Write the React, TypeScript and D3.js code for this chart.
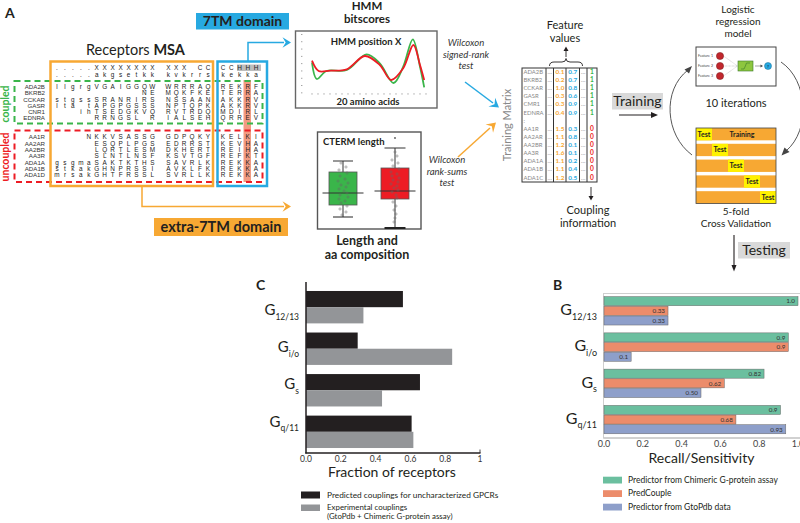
import React from 'react';
import * as d3 from 'd3';

const FONT = "Lato, 'Open Sans', sans-serif";
const MSA_FONT = "'Liberation Sans', Arial, sans-serif";

const ORANGE = '#f7a833';
const BLUE = '#27a9e1';
const GREEN = '#3ab54a';
const RED = '#ed1c24';

// ---------- Panel C data ----------
const gProteins = ['12/13', 'i/o', 's', 'q/11'];
const predictedC = [0.557, 0.297, 0.655, 0.607];
const experimentalC = [0.33, 0.84, 0.437, 0.617];
const cTicks = [0, 0.2, 0.4, 0.6, 0.8, 1];
const cTickLabels = ['0.0', '0.2', '0.4', '0.6', '0.8', '1'];
const cLegend = ['Predicted couplings for uncharacterized GPCRs', 'Experimental couplings', '(GtoPdb + Chimeric G-protein assay)'];

// ---------- Panel B data ----------
const chimericB = [1.0, 0.95, 0.825, 0.91];
const predCoupleB = [0.33, 0.95, 0.62, 0.68];
const gtopdbB = [0.33, 0.14, 0.5, 0.937];
const chimericLabels = ['1.0', '0.9', '0.82', '0.9'];
const predCoupleLabels = ['0.33', '0.9', '0.62', '0.68'];
const gtopdbLabels = ['0.33', '0.1', '0.50', '0.93'];
const bSeriesNames = ['Predictor from Chimeric G-protein assay', 'PredCouple', 'Predictor from GtoPdb data'];
const bColors = ['#6bbf9f', '#ec8c6b', '#8e9fca'];
const bTicks = [0, 0.2, 0.4, 0.6, 0.8, 1];
const bTickLabels = ['0.0', '0.2', '0.4', '0.6', '0.8', '1.0'];

// ---------- Panel A data ----------
const coupledNames = ['ADA2B', 'BKRB2', 'CCKAR', 'GASR', 'CNR1', 'EDNRA'];
const uncoupledNames = ['AA1R', 'AA2AR', 'AA2BR', 'AA3R', 'ADA1A', 'ADA1B', 'ADA1D'];
const msaHeader1 = '.....XXXXXXXX XXX CC';
const msaHeader2 = '.....akgsetkk kvkrrs';
const coupledExtra = [
  'llgrgVGAIGGQW WRRRAQ',
  '           NE MQKFKE',
  'stgssSRANRIRS NSSAAN',
  'lta tAPGPGSSS NPTQPK',
  '   ihTSEDGKVQ RVTRDQ',
  '     RRNGSL R IALSEH',
];
const uncoupledExtra = [
  '    NKKVSASSG GDPQKY',
  '     ESQPLPGS EDRRST',
  '     LQRTLESM DKHERT',
  '     SLNTLNSF KSVTGF',
  'gsgmaSAKTKTHS SAVRLK',
  'stkakGHNPRSSI AVKLFK',
  'mrsakGHTFRSSL SVRLLK',
];
const tmHeader1 = 'CCHHH';
const tmHeader2 = 'kekka';
const coupledTM = ['REKRF', 'TERRA', 'AKKRV', 'AKKRV', 'MDIRL', 'QRREV'];
const uncoupledTM = ['KELKI', 'KEVHA', 'REIHA', 'REFKT', 'REKKA', 'REKKA', 'REKKA'];

// HMM bitscore curves (position along 20 aa, bitscore 0..1)
const greenHmmPos = [1, 1.8, 3.4, 6.8, 10.1, 12.3, 14.6, 16.2, 17.8, 19, 19.7];
const greenHmmVal = [0.5, 0.2, 0.345, 0.364, 0.649, 0.485, 0.127, 0.424, 0.922, 0.424, 0.049];
const redHmmPos = [1, 2.1, 4, 6.8, 9.8, 12.3, 14.2, 16.2, 17.9, 19, 19.7];
const redHmmVal = [0.533, 0.345, 0.351, 0.376, 0.618, 0.455, 0.182, 0.394, 0.818, 0.455, 0.182];

// CTERM length box plots [min, q1, median, q3, max]
const ctermGreen = [13, 25, 37, 58, 69];
const ctermRed = [2, 31, 39, 62, 82];
const ctermRedOutlier = 92;
const greenDotVals = [67, 63, 60, 57, 54, 51, 49, 47, 45, 43, 41, 39, 37, 35, 33, 31, 29, 27, 24, 21, 18, 15];
const greenDotOff = [-2, 3, -4, 4, -3, 2, -5, 5, -2, 3, -4, 1, 4, -3, 5, -4, 2, -2, 4, -3, 3, -1];
const redDotVals = [78, 74, 70, 67, 64, 61, 58, 56, 54, 52, 50, 48, 46, 44, 42, 40, 38, 35, 32, 28, 24, 20, 16, 12, 8];
const redDotOff = [0, 2, -3, 3, -2, 4, -4, 2, -3, 4, -2, 3, -4, 2, -1, 3, -3, 1, 2, -2, 1, -1, 1, 0, -1];

// Training matrix
const tmNames = ['ADA2B', 'BKRB2', 'CCKAR', 'GASR', 'CMR1', 'EDNRA', ':', 'AA1R', 'AA2AR', 'AA2BR', 'AA3R', 'ADA1A', 'ADA1B', 'ADA1C'];
const tmFeat1 = ['0.1', '0.2', '1.0', '0.3', '0.3', '0.4', '', '1.5', '1.1', '1.2', '1.6', '1.1', '1.1', '1.2'];
const tmFeat2 = ['0.7', '0.7', '0.8', '0.6', '0.9', '0.9', '', '0.3', '0.8', '0.1', '0.1', '0.2', '0.4', '0.5'];
const tmCoupling = ['1', '1', '1', '1', '1', '1', '', '0', '0', '0', '0', '0', '0', '0'];

const folds = [0, 1, 2, 3, 4];

function swept(x: number, y: number, angle: number, size: number, color: string, key?: string) {
  const s = size;
  return (
    <path key={key} d={`M0,0 L${-s},${-s * 0.62} L${-s * 0.62},0 L${-s},${s * 0.62} Z`} fill={color}
      transform={`translate(${x},${y}) rotate(${angle})`} />
  );
}

function Sub({ x, y, sub, size, subSize, dy }: any) {
  return (
    <text x={x} y={y} textAnchor="end" fontFamily={FONT} fill="#231f20">
      <tspan fontSize={size}>G</tspan>
      <tspan fontSize={subSize} dy={dy}>{sub}</tspan>
    </text>
  );
}

export default function App() {
  // ---------------- Panel C ----------------
  const xC = d3.scaleLinear().domain([0, 1]).range([306, 480]);
  const yC = d3.scaleBand().domain(gProteins).range([286, 453]).paddingInner(0.22).paddingOuter(0.12);
  const yCInner = d3.scaleBand().domain(['pred', 'exp']).range([0, yC.bandwidth()]);
  const yCLabel = d3.scalePoint().domain(gProteins).range([315, 426.5]);

  // ---------------- Panel B ----------------
  const xB = d3.scaleLinear().domain([0, 1]).range([604, 798]);
  const yB = d3.scaleBand().domain(gProteins).range([293, 438]).paddingInner(0.2).paddingOuter(0.1);
  const yBInner = d3.scaleBand().domain(['0', '1', '2']).range([0, yB.bandwidth()]);
  const bValues = [chimericB, predCoupleB, gtopdbB];
  const bLabels = [chimericLabels, predCoupleLabels, gtopdbLabels];
  const legendBY = d3.scalePoint().domain(bSeriesNames).range([480, 507]);

  // ---------------- MSA ----------------
  const msaCol = d3.scaleLinear().domain([0, 19]).range([57, 208]);
  const tmCol = d3.scaleLinear().domain([0, 4]).range([223, 256]);
  const coupledY = d3.scalePoint().domain(coupledNames).range([87, 117.5]);
  const uncoupledY = d3.scalePoint().domain(uncoupledNames).range([137, 175]);

  const letters = (str: string, y: number, xs: (i: number) => number, kp: string, fill = '#222') =>
    str.split('').map((ch, i) =>
      ch === ' ' ? null : (
        <text key={kp + i} x={xs(i)} y={y + 2.3} textAnchor="middle" fontSize={6.4} fontFamily={MSA_FONT} fill={fill}>{ch}</text>
      ));

  // ---------------- HMM ----------------
  const xH = d3.scaleLinear().domain([1, 20]).range([312, 426]);
  const yH = d3.scaleLinear().domain([0, 1]).range([90, 35]);
  const mkLine = (pos: number[], val: number[]) =>
    d3.line<[number, number]>().x(d => xH(d[0])).y(d => yH(d[1])).curve(d3.curveCatmullRom.alpha(0.5))(pos.map((p, i) => [p, val[i]]))!;
  const hmmAxisDotsY = d3.range(0, 9).map(i => 34 + i * 7.3);
  const hmmAxisDotsX = d3.range(1, 21);

  // ---------------- CTERM ----------------
  const yT = d3.scaleLinear().domain([0, 100]).range([230, 130]);
  const boxes = [
    { s: ctermGreen, cx: 343, fill: GREEN, dots: greenDotVals, off: greenDotOff, medHalf: 20.5, capHalf: 10 },
    { s: ctermRed, cx: 395, fill: RED, dots: redDotVals, off: redDotOff, medHalf: 20.5, capHalf: 10.5 },
  ];

  // ---------------- Training matrix ----------------
  const tmY = d3.scalePoint().domain(d3.range(tmNames.length).map(String)).range([71.7, 177.3]);

  // ---------------- CV ----------------
  const cvRow = d3.scaleBand<number>().domain(folds).range([128, 203.5]).paddingInner(0.22);
  const cvCol = d3.scaleBand<number>().domain(folds).range([696, 776]);

  return (
    <svg width={800} height={523} viewBox="0 0 800 523" style={{ position: 'absolute', left: 0, top: 0, background: '#fff' }}
      fontFamily={FONT}>
      <rect x={0} y={0} width={800} height={523} fill="#fff" />

      {/* ================= Panel A ================= */}
      <text x={5} y={18} fontSize={14} fontWeight={700} fill="#231f20">A</text>

      <rect x={196} y={13} width={93} height={16.5} fill={BLUE} />
      <text x={242.5} y={26} textAnchor="middle" fontSize={14} fontWeight={700} fill="#231f20">7TM domain</text>

      <text x={86} y={55} fontSize={14.5} fill="#231f20">Receptors <tspan fontWeight={700}>MSA</tspan></text>

      <rect x={237} y={64.5} width={24} height={6.5} fill="#bdbdbd" />
      <rect x={243.5} y={80} width={7.5} height={102} fill="#f08a6c" opacity={0.85} />

      <text transform="translate(9,104) rotate(-90)" textAnchor="middle" fontSize={10.5} fontWeight={700} fill={GREEN}>coupled</text>
      <text transform="translate(9,157) rotate(-90)" textAnchor="middle" fontSize={10.5} fontWeight={700} fill={RED}>uncoupled</text>

      {coupledNames.map(n => (
        <text key={n} x={45} y={coupledY(n)! + 2.3} textAnchor="end" fontSize={6.2} fontFamily={MSA_FONT} fill="#333">{n}</text>
      ))}
      {uncoupledNames.map(n => (
        <text key={n} x={45} y={uncoupledY(n)! + 2.3} textAnchor="end" fontSize={6.2} fontFamily={MSA_FONT} fill="#333">{n}</text>
      ))}

      {letters(msaHeader1, 67.5, msaCol, 'h1')}
      {letters(msaHeader2, 74.5, msaCol, 'h2')}
      {letters(tmHeader1, 67.5, tmCol, 't1')}
      {letters(tmHeader2, 74.5, tmCol, 't2')}
      {coupledExtra.map((s, r) => letters(s, coupledY(coupledNames[r])!, msaCol, 'ce' + r))}
      {uncoupledExtra.map((s, r) => letters(s, uncoupledY(uncoupledNames[r])!, msaCol, 'ue' + r))}
      {coupledTM.map((s, r) => letters(s, coupledY(coupledNames[r])!, tmCol, 'ct' + r))}
      {uncoupledTM.map((s, r) => letters(s, uncoupledY(uncoupledNames[r])!, tmCol, 'ut' + r))}

      <rect x={14.5} y={81} width={248} height={42.5} fill="none" stroke={GREEN} strokeWidth={2} strokeDasharray="6 4" />
      <rect x={14.5} y={130.5} width={248} height={51.5} fill="none" stroke={RED} strokeWidth={2} strokeDasharray="6 4" />

      <rect x={50.5} y={61.5} width={162.5} height={124.5} fill="none" stroke={ORANGE} strokeWidth={2.5} />
      <rect x={217.5} y={61.5} width={49.5} height={124.5} fill="none" stroke={BLUE} strokeWidth={2.5} />

      <path d="M248,61 V42.5 H284" fill="none" stroke={BLUE} strokeWidth={1.5} />
      {swept(291, 42.5, 0, 8.5, BLUE)}
      <path d="M142,187 V206.5 H284" fill="none" stroke={ORANGE} strokeWidth={1.5} />
      {swept(291, 206.5, 0, 8.5, ORANGE)}

      <rect x={154} y={218} width={134} height={18} fill={ORANGE} />
      <text x={221} y={231.5} textAnchor="middle" fontSize={14.5} fontWeight={700} fill="#231f20">extra-7TM domain</text>

      {/* HMM bitscores */}
      <text x={367} y={10} textAnchor="middle" fontSize={11.5} fontWeight={700} fill="#231f20">HMM</text>
      <text x={367} y={22.5} textAnchor="middle" fontSize={11.5} fontWeight={700} fill="#231f20">bitscores</text>
      <rect x={295.5} y={31} width={141.5} height={77} fill="#fff" stroke="#666" strokeWidth={1.4} />
      <text x={366} y={45} textAnchor="middle" fontSize={9.5} fontWeight={700} fill="#231f20">HMM position X</text>
      {hmmAxisDotsY.map((y, i) => <rect key={'hy' + i} x={301} y={y} width={1.4} height={0.9} fill="#999" />)}
      {hmmAxisDotsX.map((p, i) => <rect key={'hx' + i} x={xH(p) - 0.7} y={93.5} width={1.4} height={0.9} fill="#999" />)}
      <path d={mkLine(greenHmmPos, greenHmmVal)} fill="none" stroke={GREEN} strokeWidth={1.8} />
      <path d={mkLine(redHmmPos, redHmmVal)} fill="none" stroke={RED} strokeWidth={1.8} />
      <text x={368} y={105} textAnchor="middle" fontSize={9.5} fontWeight={700} fill="#231f20">20 amino acids</text>

      <text x={466} y={46} textAnchor="middle" fontSize={9.5} fontStyle="italic" fill="#333">Wilcoxon</text>
      <text x={466} y={57.5} textAnchor="middle" fontSize={9.5} fontStyle="italic" fill="#333">signed-rank</text>
      <text x={466} y={69} textAnchor="middle" fontSize={9.5} fontStyle="italic" fill="#333">test</text>

      {/* CTERM box */}
      <rect x={317.5} y={132} width={103.5} height={97} fill="#fff" stroke="#555" strokeWidth={1.4} />
      <text x={323} y={144.5} fontSize={9.5} fontWeight={700} fill="#231f20">CTERM length</text>
      {boxes.map((b, bi) => {
        const [mn, q1, md, q3, mx] = b.s;
        return (
          <g key={'bx' + bi}>
            <line x1={b.cx} x2={b.cx} y1={yT(mx)} y2={yT(mn)} stroke="#333" strokeWidth={1} />
            <line x1={b.cx - b.capHalf} x2={b.cx + b.capHalf} y1={yT(mx)} y2={yT(mx)} stroke="#333" strokeWidth={1} />
            <line x1={b.cx - b.capHalf} x2={b.cx + b.capHalf} y1={yT(mn)} y2={yT(mn)} stroke="#222" strokeWidth={bi === 1 ? 2 : 1} />
            <rect x={b.cx - 14} y={yT(q3)} width={28} height={yT(q1) - yT(q3)} fill={b.fill} stroke="#555" strokeWidth={0.8} />
            <line x1={b.cx - b.medHalf} x2={b.cx + b.medHalf} y1={yT(md)} y2={yT(md)} stroke="#333" strokeWidth={1} />
            {b.dots.map((v, i) => (
              <circle key={'d' + i} cx={b.cx + b.off[i]} cy={yT(v)} r={1.1} fill="none" stroke="#666" strokeWidth={0.5} />
            ))}
          </g>
        );
      })}
      <circle cx={395} cy={yT(ctermRedOutlier)} r={0.9} fill="#555" />
      <text x={367} y={245} textAnchor="middle" fontSize={12.5} fontWeight={700} fill="#231f20">Length and</text>
      <text x={367} y={258.5} textAnchor="middle" fontSize={12.5} fontWeight={700} fill="#231f20">aa composition</text>

      <text x={447} y={163} textAnchor="middle" fontSize={9.5} fontStyle="italic" fill="#333">Wilcoxon</text>
      <text x={447} y={174.5} textAnchor="middle" fontSize={9.5} fontStyle="italic" fill="#333">rank-sums</text>
      <text x={447} y={186} textAnchor="middle" fontSize={9.5} fontStyle="italic" fill="#333">test</text>

      <line x1={465} y1={82} x2={493} y2={103} stroke={BLUE} strokeWidth={1.5} />
      {swept(499, 107.5, 37, 9, BLUE)}
      <line x1={458} y1={157} x2={490} y2={128} stroke={ORANGE} strokeWidth={1.5} />
      {swept(496, 122.5, -42, 9, ORANGE)}

      {/* Training matrix */}
      <text transform="translate(511,125) rotate(-90)" textAnchor="middle" fontSize={11} fill="#888">Training Matrix</text>
      <rect x={522} y={68} width={75} height={114} fill="#fff" stroke="#333" strokeWidth={1} />
      {[546, 553.5, 566, 579.5, 587].map((x, i) => (
        <line key={'v' + i} x1={x} x2={x} y1={68} y2={182} stroke="#333" strokeWidth={1} />
      ))}
      {tmNames.map((n, i) => {
        const y = tmY(String(i))! + 2.2;
        return (
          <g key={'tm' + i}>
            <text x={523.5} y={y} fontSize={5.9} fill="#888">{n}</text>
            {n !== ':' && <text x={549.7} y={y} textAnchor="middle" fontSize={6} fill="#888">...</text>}
            {n !== ':' && <text x={583.2} y={y} textAnchor="middle" fontSize={6} fill="#888">...</text>}
            <text x={560} y={y} textAnchor="middle" fontSize={6.4} fontWeight={700} fill={ORANGE}>{tmFeat1[i]}</text>
            <text x={572.8} y={y} textAnchor="middle" fontSize={6.4} fontWeight={700} fill={BLUE}>{tmFeat2[i]}</text>
            <text x={592} y={y} textAnchor="middle" fontSize={6.6} fontWeight={700} fill={tmCoupling[i] === '1' ? GREEN : RED}>{tmCoupling[i]}</text>
          </g>
        );
      })}
      <path d="M549.5,66 Q549.5,62 554,62 L562,62 Q566,62 566,58.5 Q566,62 570,62 L578,62 Q582.5,62 582.5,66" fill="none" stroke="#231f20" strokeWidth={0.9} />
      <line x1={566} y1={57} x2={566} y2={50} stroke="#231f20" strokeWidth={0.9} />
      <path d="M563.5,51 L566,46.5 L568.5,51 Z" fill="#231f20" />
      <text x={565} y={29} textAnchor="middle" fontSize={11} fill="#231f20">Feature</text>
      <text x={565} y={42} textAnchor="middle" fontSize={11} fill="#231f20">values</text>

      <line x1={591} y1={187} x2={591} y2={197} stroke="#231f20" strokeWidth={0.9} />
      <path d="M588.5,196 L591,200.5 L593.5,196 Z" fill="#231f20" />
      <text x={588} y={214} textAnchor="middle" fontSize={11} fill="#231f20">Coupling</text>
      <text x={588} y={227} textAnchor="middle" fontSize={11} fill="#231f20">information</text>

      <rect x={612} y={93} width={51} height={16.5} fill="#d9d9d9" />
      <text x={637.5} y={106} textAnchor="middle" fontSize={14} fill="#231f20">Training</text>
      <line x1={619} y1={115} x2={653} y2={115} stroke="#231f20" strokeWidth={1.2} />
      <path d="M651,112 L658,115 L651,118 Z" fill="#231f20" />

      {/* Logistic regression model */}
      <text x={738} y={13} textAnchor="middle" fontSize={10} fill="#231f20">Logistic</text>
      <text x={738} y={25} textAnchor="middle" fontSize={10} fill="#231f20">regression</text>
      <text x={738} y={37} textAnchor="middle" fontSize={10} fill="#231f20">model</text>
      <rect x={696} y={47} width={80} height={39} fill="#fff" stroke="#444" strokeWidth={1} />
      {[56, 66, 76].map((y, i) => (
        <g key={'f' + i}>
          <text x={698} y={y + 1.2} fontSize={3.6} fill="#444">Feature {i + 1}</text>
          <line x1={723.5} y1={y} x2={737.5} y2={66} stroke="#888" strokeWidth={0.4} strokeDasharray="0.8 0.6" />
          <circle cx={720} cy={y} r={3.6} fill="#c1272d" stroke="#7a1a1a" strokeWidth={0.5} />
        </g>
      ))}
      <rect x={738} y={61} width={15} height={10} fill="#8dc63f" stroke="#39782b" strokeWidth={0.6} />
      <path d="M741,69 L744,69 Q745.5,66 746.5,63 L750,63" fill="none" stroke="#39782b" strokeWidth={0.6} />
      <line x1={755} x2={761} y1={66} y2={66} stroke="#444" strokeWidth={0.5} />
      <path d="M760.5,64.6 L763,66 L760.5,67.4 Z" fill="#444" />
      <circle cx={768} cy={66} r={3.5} fill={BLUE} stroke="#1b6d94" strokeWidth={0.5} />
      <text x={768} y={67.6} textAnchor="middle" fontSize={4.5} fontWeight={700} fill="#1b3d5a">?</text>

      <path d="M692,155 C665,135 662,90 688,70" fill="none" stroke="#444" strokeWidth={0.9} />
      <path d="M684.5,69.5 L692,66 L689,73.5 Z" fill="#444" />
      <path d="M781,62 C808,80 811,130 786,151" fill="none" stroke="#444" strokeWidth={0.9} />
      <path d="M789.5,152 L781.5,155.5 L784.5,147.5 Z" fill="#444" />
      <text x={736} y={107} textAnchor="middle" fontSize={11} fill="#231f20">10 iterations</text>

      {folds.map(f => (
        <g key={'cv' + f}>
          <rect x={696} y={cvRow(f)!} width={80} height={cvRow.bandwidth()} fill={ORANGE} />
          <rect x={cvCol(f)!} y={cvRow(f)!} width={cvCol.bandwidth()} height={cvRow.bandwidth()} fill="#fff200" />
          <text x={cvCol(f)! + cvCol.bandwidth() / 2} y={cvRow(f)! + cvRow.bandwidth() / 2 + 2.5} textAnchor="middle" fontSize={7} fontWeight={700} fill="#231f20">Test</text>
        </g>
      ))}
      <text x={742} y={cvRow(0)! + cvRow.bandwidth() / 2 + 2.5} textAnchor="middle" fontSize={7} fontWeight={700} fill="#231f20">Training</text>
      <rect x={696} y={128} width={80} height={75.5} fill="none" stroke="#444" strokeWidth={0.8} />
      <text x={736} y={215} textAnchor="middle" fontSize={10} fill="#231f20">5-fold</text>
      <text x={736} y={226.5} textAnchor="middle" fontSize={10} fill="#231f20">Cross Validation</text>

      <line x1={734} y1={235} x2={734} y2={267} stroke="#231f20" strokeWidth={1.1} />
      <path d="M731.5,265 L734,271.5 L736.5,265 Z" fill="#231f20" />
      <rect x={738} y={242} width={52} height={16.5} fill="#d9d9d9" />
      <text x={764} y={255} textAnchor="middle" fontSize={14} fill="#231f20">Testing</text>

      {/* ================= Panel C ================= */}
      <text x={256} y={290} fontSize={14} fontWeight={700} fill="#231f20">C</text>
      {gProteins.map((g, i) => (
        <g key={'c' + g}>
          <rect x={xC(0)} y={yC(g)! + yCInner('pred')!} width={xC(predictedC[i]) - xC(0)} height={yCInner.bandwidth()} fill="#231f20" />
          <rect x={xC(0)} y={yC(g)! + yCInner('exp')!} width={xC(experimentalC[i]) - xC(0)} height={yCInner.bandwidth()} fill="#939598" />
          <Sub x={299} y={yCLabel(g)!} sub={g} size={15} subSize={8.5} dy={4.5} />
        </g>
      ))}
      <line x1={306} x2={306} y1={282} y2={453.5} stroke="#231f20" strokeWidth={1.5} />
      <line x1={305.3} x2={480.5} y1={453} y2={453} stroke="#231f20" strokeWidth={1.5} />
      <line x1={480} x2={480} y1={449.5} y2={453} stroke="#231f20" strokeWidth={0.8} />
      {cTicks.map((t, i) => (
        <text key={'ct' + i} x={xC(t)} y={461.5} textAnchor="middle" fontSize={8.5} fill="#333">{cTickLabels[i]}</text>
      ))}
      <text x={392} y={476.5} textAnchor="middle" fontSize={14} fill="#231f20">Fraction of receptors</text>
      <rect x={301} y={491.5} width={19} height={7} fill="#231f20" />
      <rect x={301} y={504.5} width={19} height={6.5} fill="#939598" />
      <text x={327} y={497.5} fontSize={8.3} fill="#231f20">{cLegend[0]}</text>
      <text x={327} y={510.2} fontSize={7.9} fill="#231f20">{cLegend[1]}</text>
      <text x={327} y={518.8} fontSize={7.9} fill="#231f20">{cLegend[2]}</text>

      {/* ================= Panel B ================= */}
      <text x={553} y={290} fontSize={14} fontWeight={700} fill="#231f20">B</text>
      <rect x={603.5} y={293.5} width={200} height={144.5} fill="none" stroke="#cfcfcf" strokeWidth={1} />
      {gProteins.map((g, gi) => (
        <g key={'b' + g}>
          {bValues.map((vals, si) => {
            const y = yB(g)! + yBInner(String(si))!;
            const h = yBInner.bandwidth() - 0.6;
            return (
              <g key={'bs' + si}>
                <rect x={xB(0)} y={y} width={xB(vals[gi]) - xB(0)} height={h} fill={bColors[si]} stroke="#666" strokeWidth={0.5} />
                <text x={xB(vals[gi]) - 3} y={y + h / 2 + 2.3} textAnchor="end" fontSize={6.3} fill="#333">{bLabels[si][gi]}</text>
              </g>
            );
          })}
          <Sub x={597} y={yB(g)! + yB.bandwidth() / 2 + 4} sub={g} size={16} subSize={9} dy={4.5} />
        </g>
      ))}
      <line x1={603.5} x2={800} y1={438} y2={438} stroke="#bbb" strokeWidth={1} />
      {bTicks.map((t, i) => (
        <text key={'bt' + i} x={xB(t)} y={446.5} textAnchor="middle" fontSize={9} fill="#444">{bTickLabels[i]}</text>
      ))}
      <text x={701.5} y={463} textAnchor="middle" fontSize={14} fill="#231f20">Recall/Sensitivity</text>
      {bSeriesNames.map((n, i) => (
        <g key={'bl' + i}>
          <rect x={603} y={legendBY(n)! - 3.3} width={19} height={6.8} fill={bColors[i]} />
          <text x={628} y={legendBY(n)! + 2.8} fontSize={8.5} fill="#231f20">{n}</text>
        </g>
      ))}
    </svg>
  );
}
